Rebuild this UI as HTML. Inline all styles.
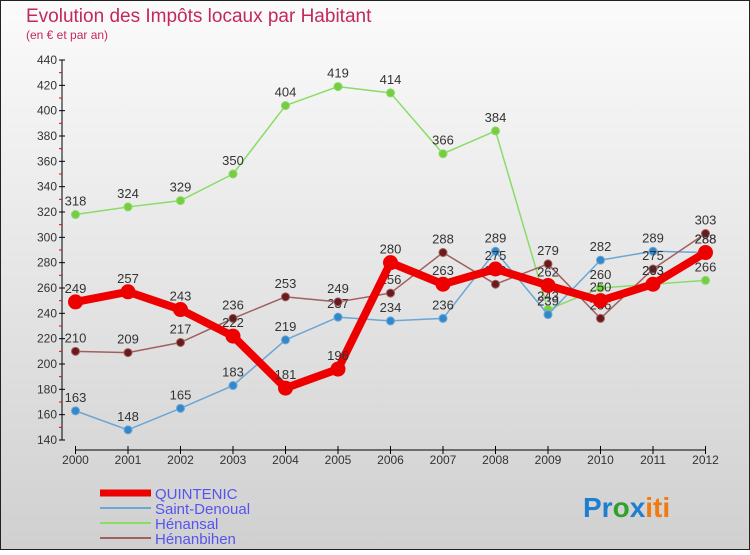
<!DOCTYPE html>
<html><head><meta charset="utf-8"><style>
body{margin:0}
svg text{font-family:"Liberation Sans",sans-serif}
</style></head><body>
<svg width="750" height="550" xmlns="http://www.w3.org/2000/svg">
<defs><linearGradient id="bg" x1="0" y1="0" x2="0" y2="1"><stop offset="0" stop-color="#fbfbfb"/><stop offset="1" stop-color="#d0d0d0"/></linearGradient></defs>
<rect x="0.5" y="0.5" width="749" height="549" fill="url(#bg)" stroke="#222"/>
<text x="26" y="22" font-size="19" fill="#c4285a">Evolution des Impôts locaux par Habitant</text>
<text x="26" y="39" font-size="12" fill="#c4285a">(en € et par an)</text>
<g id="axes"></g>
<g id="series"></g>
<g font-size="15" fill="#5555ee">
<line x1="100" y1="493" x2="151" y2="493" stroke="#e00" stroke-width="7"/><text x="155" y="499">QUINTENIC</text>
<line x1="100" y1="508" x2="151" y2="508" stroke="#6aa6d6" stroke-width="2"/><text x="155" y="514">Saint-Denoual</text>
<line x1="100" y1="523" x2="151" y2="523" stroke="#88dd66" stroke-width="2"/><text x="155" y="529">Hénansal</text>
<line x1="100" y1="538" x2="151" y2="538" stroke="#a06060" stroke-width="2"/><text x="155" y="544">Hénanbihen</text>
</g>
<text x="583" y="517" font-size="28" font-weight="bold" font-family="Liberation Sans"><tspan fill="#1e7fd0">Pr</tspan><tspan fill="#30a030">o</tspan><tspan fill="#1e7fd0">x</tspan><tspan fill="#f07a10">iti</tspan></text>
</svg>
<script>
const years=["2000","2001","2002","2003","2004","2005","2006","2007","2008","2009","2010","2011","2012"];
const yTicks=[140,160,180,200,220,240,260,280,300,320,340,360,380,400,420,440];
const quintenic=[249,257,243,222,181,196,280,263,275,262,250,263,288];
const saintDenoual=[163,148,165,183,219,237,234,236,289,239,282,289,288];
const henansal=[318,324,329,350,404,419,414,366,384,243,260,263,266];
const henanbihen=[210,209,217,236,253,249,256,288,263,279,236,275,303];
const NS="http://www.w3.org/2000/svg";
const X=i=>75.5+i*(705.5-75.5)/12;
const Y=v=>440-(v-140)*(380/300);
function mk(t,a,p){const e=document.createElementNS(NS,t);for(const k in a)e.setAttribute(k,a[k]);p.appendChild(e);return e;}
const ax=document.getElementById('axes');
let yl=mk('line',{x1:62,y1:Y(440),x2:62,y2:Y(140),stroke:'#000'},ax);


yTicks.forEach(v=>{mk('line',{x1:59,y1:Y(v),x2:65,y2:Y(v),stroke:'#000'},ax);
 if(v<440)mk('line',{x1:59,y1:Y(v+10),x2:62,y2:Y(v+10),stroke:'#e00'},ax);
 const t=mk('text',{x:57,y:Y(v)+4,'text-anchor':'end','font-size':12,fill:'#333'},ax);t.textContent=v;
 
 });
let xl=mk('line',{x1:X(0),y1:450,x2:X(12),y2:450,stroke:'#000'},ax);


years.forEach((y,i)=>{mk('line',{x1:X(i),y1:446,x2:X(i),y2:454,stroke:'#000'},ax);
 const t=mk('text',{x:X(i),y:464,'text-anchor':'middle','font-size':12,fill:'#333'},ax);t.textContent=y;
 
 });
const sg=document.getElementById('series');
function draw(name,data,color,w,r,dot){
 const g=mk('g',{},sg);
 
 
 mk('polyline',{points:data.map((v,i)=>X(i)+','+Y(v)).join(' '),fill:'none',stroke:color,'stroke-width':w,'stroke-linejoin':'round'},g);
 data.forEach((v,i)=>{const c=mk('circle',{cx:X(i),cy:Y(v),r:r,fill:dot,stroke:color,'stroke-width':1},g);
  
  
  const t=mk('text',{x:X(i),y:Y(v)-9,'text-anchor':'middle','font-size':13,fill:'#333'},g);t.textContent=v;
  
  });
}
draw('henansal-series',henansal,'#88dd66',1.5,4,'#77cc44');
draw('saint-denoual-series',saintDenoual,'#6aa6d6',1.5,4,'#3388cc');
draw('henanbihen-series',henanbihen,'#a06060',1.5,4,'#6a1a1a');
draw('quintenic-series',quintenic,'#ee0000',8,7,'#ee0000');
</script>
</body></html>
